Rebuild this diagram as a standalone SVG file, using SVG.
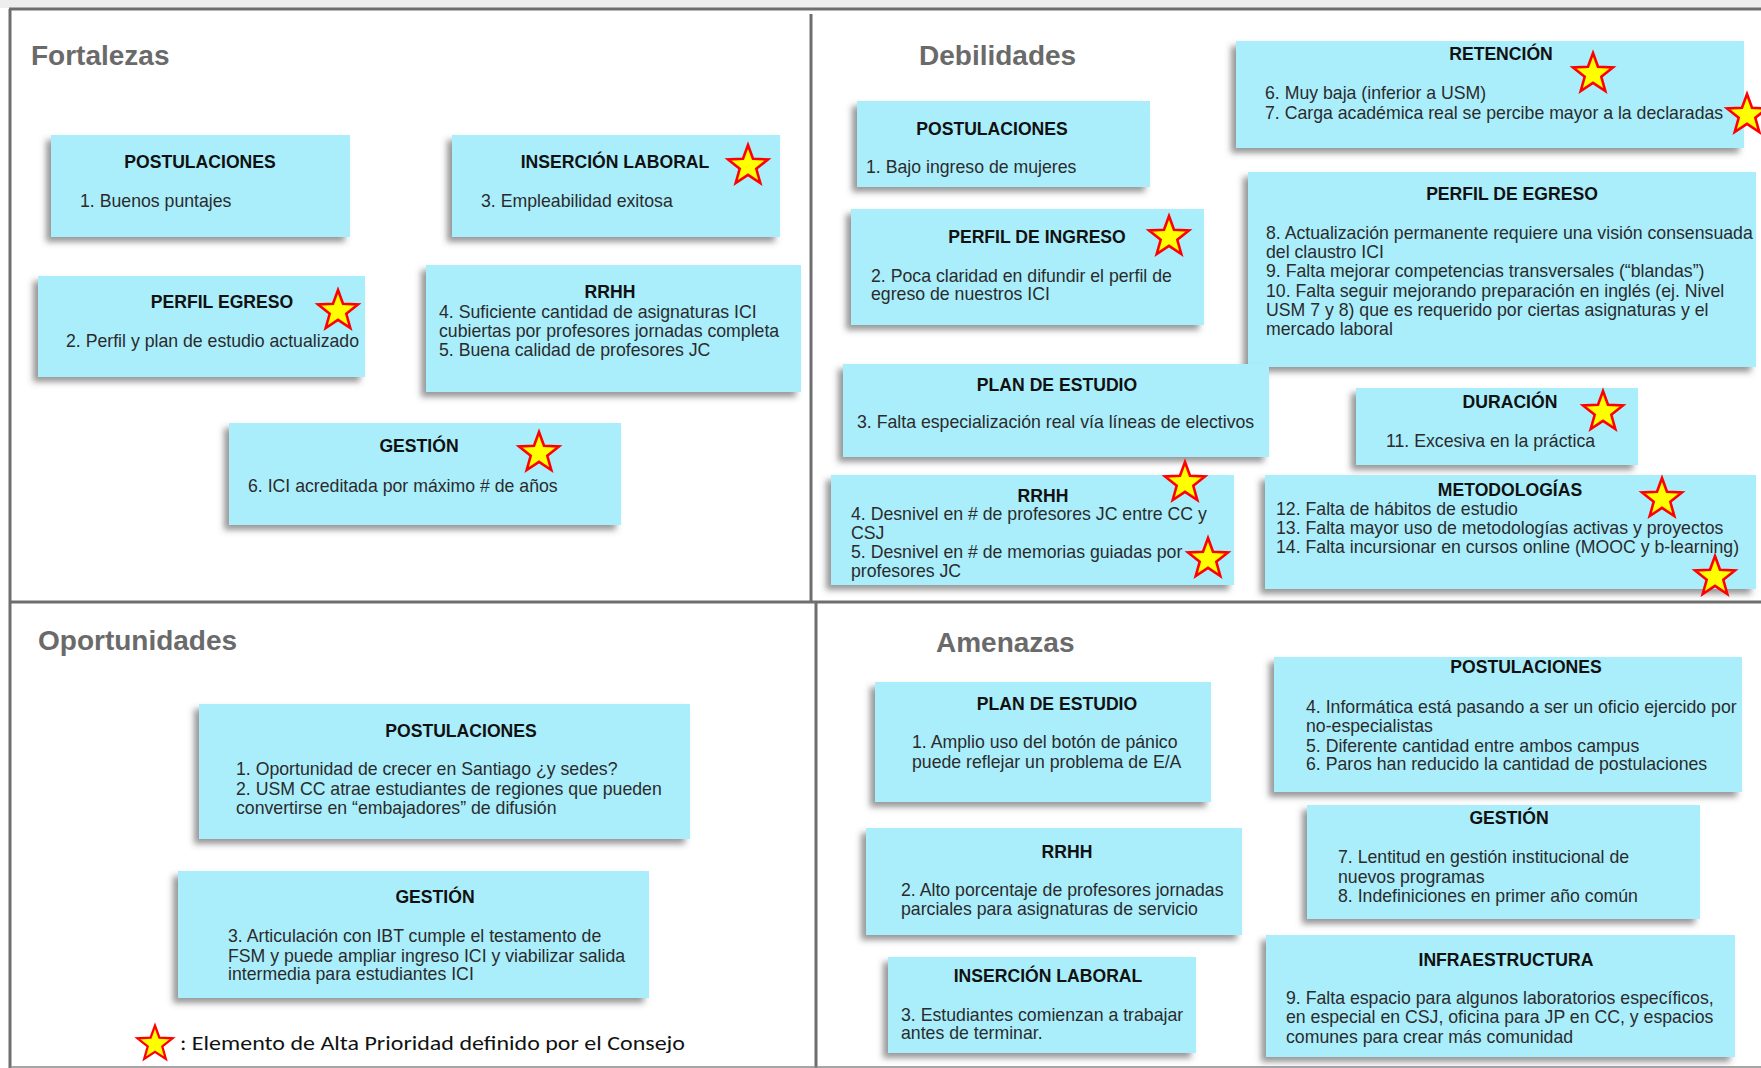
<svg xmlns="http://www.w3.org/2000/svg" xmlns:xlink="http://www.w3.org/1999/xlink" width="1761" height="1068" viewBox="0 0 1761 1068">
<defs>
<filter id="sh" x="-10%" y="-10%" width="120%" height="130%">
<feDropShadow dx="-5" dy="5" stdDeviation="3" flood-color="#444" flood-opacity="0.55"/>
</filter>
<path id="star" d="M0,-21 L5,-7.2 L20,-6.5 L8.3,2.8 L12.3,17 L0,8.9 L-12.3,17 L-8.3,2.8 L-20,-6.5 L-5,-7.2 Z" fill="#ffff00" stroke="#ff0000" stroke-width="2.6" stroke-linejoin="miter"/>
<style>
.note{fill:#aaeefc;filter:url(#sh)}
.t{font-family:'Liberation Sans',Arial,sans-serif;font-weight:bold;font-size:17.6px;text-anchor:middle;fill:#111}
.b{font-family:'Liberation Sans',Arial,sans-serif;font-size:17.7px;fill:#2b2b2b}
.h{font-family:'Liberation Sans',Arial,sans-serif;font-weight:bold;font-size:28px;fill:#6a6a6a}
.fr{stroke:#6e6e6e;stroke-width:3;fill:none}
</style>
</defs>
<rect x="0" y="0" width="1761" height="1068" fill="#ffffff"/>
<rect x="0" y="0" width="1761" height="8" fill="#eeeeee"/>
<g id="frame">
<line class="fr" x1="9" y1="9" x2="1761" y2="9"/>
<line class="fr" x1="10" y1="9" x2="10" y2="1068"/>
<line class="fr" x1="811" y1="14" x2="811" y2="602"/>
<line class="fr" x1="10" y1="602" x2="1761" y2="602"/>
<line class="fr" x1="816" y1="602" x2="816" y2="1068"/>
<line stroke="#888" stroke-width="1.5" x1="10" y1="1067" x2="1761" y2="1067"/>
</g>
<g id="titles">
<text class="h" x="31" y="65">Fortalezas</text>
<text class="h" x="919" y="65">Debilidades</text>
<text class="h" x="38" y="650">Oportunidades</text>
<text class="h" x="936" y="652">Amenazas</text>
</g>
<g id="connectors"></g>

<g id="f-postulaciones">
<rect class="note" x="51" y="135" width="299" height="102"/>
<text class="t" x="200" y="168">POSTULACIONES</text>
<text class="b" x="80" y="207">1. Buenos puntajes</text>
</g>
<g id="f-insercion">
<rect class="note" x="452" y="135" width="328" height="102"/>
<text class="t" x="615" y="168">INSERCIÓN LABORAL</text>
<use href="#star" x="748" y="166"/>
<text class="b" x="481" y="207">3. Empleabilidad exitosa</text>
</g>
<g id="f-perfil-egreso">
<rect class="note" x="38" y="276" width="327" height="101"/>
<text class="t" x="222" y="308">PERFIL EGRESO</text>
<use href="#star" x="338" y="311"/>
<text class="b" x="66" y="347">2. Perfil y plan de estudio actualizado</text>
</g>
<g id="f-rrhh">
<rect class="note" x="426" y="265" width="375" height="127"/>
<text class="t" x="610" y="298">RRHH</text>
<text class="b" x="439" y="318">4. Suficiente cantidad de asignaturas ICI</text>
<text class="b" x="439" y="337">cubiertas por profesores jornadas completa</text>
<text class="b" x="439" y="356">5. Buena calidad de profesores JC</text>
</g>
<g id="f-gestion">
<rect class="note" x="229" y="423" width="392" height="102"/>
<text class="t" x="419" y="452">GESTIÓN</text>
<use href="#star" x="539" y="453"/>
<text class="b" x="248" y="492">6. ICI acreditada por máximo # de años</text>
</g>

<g id="d-retencion">
<rect class="note" x="1236" y="41" width="508" height="107"/>
<text class="t" x="1501" y="60">RETENCIÓN</text>
<use href="#star" x="1593" y="74"/>
<text class="b" x="1265" y="99">6. Muy baja (inferior a USM)</text>
<text class="b" x="1265" y="119">7. Carga académica real se percibe mayor a la declaradas</text>
<use href="#star" x="1747" y="115"/>
</g>
<g id="d-postulaciones">
<rect class="note" x="857" y="101" width="293" height="86"/>
<text class="t" x="992" y="135">POSTULACIONES</text>
<text class="b" x="866" y="173">1. Bajo ingreso de mujeres</text>
</g>
<g id="d-perfil-ingreso">
<rect class="note" x="851" y="209" width="353" height="116"/>
<text class="t" x="1037" y="243">PERFIL DE INGRESO</text>
<use href="#star" x="1169" y="237"/>
<text class="b" x="871" y="282">2. Poca claridad en difundir el perfil de</text>
<text class="b" x="871" y="300">egreso de nuestros ICI</text>
</g>
<g id="d-perfil-egreso">
<rect class="note" x="1248" y="172" width="508" height="195"/>
<text class="t" x="1512" y="200">PERFIL DE EGRESO</text>
<text class="b" x="1266" y="239">8. Actualización permanente requiere una visión consensuada</text>
<text class="b" x="1266" y="258">del claustro ICI</text>
<text class="b" x="1266" y="277">9. Falta mejorar competencias transversales (“blandas”)</text>
<text class="b" x="1266" y="297">10. Falta seguir mejorando preparación en inglés (ej. Nivel</text>
<text class="b" x="1266" y="316">USM 7 y 8) que es requerido por ciertas asignaturas y el</text>
<text class="b" x="1266" y="335">mercado laboral</text>
</g>
<g id="d-plan">
<rect class="note" x="843" y="364" width="426" height="93"/>
<text class="t" x="1057" y="391">PLAN DE ESTUDIO</text>
<text class="b" x="857" y="428">3. Falta especialización real vía líneas de electivos</text>
</g>
<g id="d-duracion">
<rect class="note" x="1356" y="388" width="282" height="77"/>
<text class="t" x="1510" y="408">DURACIÓN</text>
<use href="#star" x="1603" y="412"/>
<text class="b" x="1386" y="447">11. Excesiva en la práctica</text>
</g>
<g id="d-rrhh">
<rect class="note" x="831" y="475" width="403" height="110"/>
<text class="t" x="1043" y="502">RRHH</text>
<use href="#star" x="1185" y="483"/>
<text class="b" x="851" y="520">4. Desnivel en # de profesores JC entre CC y</text>
<text class="b" x="851" y="539">CSJ</text>
<text class="b" x="851" y="558">5. Desnivel en # de memorias guiadas por</text>
<text class="b" x="851" y="577">profesores JC</text>
<use href="#star" x="1208" y="559"/>
</g>
<g id="d-metodologias">
<rect class="note" x="1265" y="475" width="491" height="114"/>
<text class="t" x="1510" y="496">METODOLOGÍAS</text>
<use href="#star" x="1662" y="499"/>
<text class="b" x="1276" y="515">12. Falta de hábitos de estudio</text>
<text class="b" x="1276" y="534">13. Falta mayor uso de metodologías activas y proyectos</text>
<text class="b" x="1276" y="553">14. Falta incursionar en cursos online (MOOC y b-learning)</text>
<use href="#star" x="1715" y="577"/>
</g>

<g id="o-postulaciones">
<rect class="note" x="199" y="704" width="491" height="135"/>
<text class="t" x="461" y="737">POSTULACIONES</text>
<text class="b" x="236" y="775">1. Oportunidad de crecer en Santiago ¿y sedes?</text>
<text class="b" x="236" y="795">2. USM CC atrae estudiantes de regiones que pueden</text>
<text class="b" x="236" y="814">convertirse en “embajadores” de difusión</text>
</g>
<g id="o-gestion">
<rect class="note" x="178" y="871" width="471" height="127"/>
<text class="t" x="435" y="903">GESTIÓN</text>
<text class="b" x="228" y="942">3. Articulación con IBT cumple el testamento de</text>
<text class="b" x="228" y="962">FSM y puede ampliar ingreso ICI y viabilizar salida</text>
<text class="b" x="228" y="980">intermedia para estudiantes ICI</text>
</g>
<g id="legend">
<use href="#star" transform="translate(155,1044) scale(0.88)"/>
<text x="180" y="1050" font-family="Carlito,'Liberation Sans',sans-serif" font-size="21" fill="#111" textLength="505" lengthAdjust="spacingAndGlyphs">: Elemento de Alta Prioridad definido por el Consejo</text>
</g>

<g id="a-plan">
<rect class="note" x="875" y="682" width="336" height="120"/>
<text class="t" x="1057" y="710">PLAN DE ESTUDIO</text>
<text class="b" x="912" y="748">1. Amplio uso del botón de pánico</text>
<text class="b" x="912" y="768">puede reflejar un problema de E/A</text>
</g>
<g id="a-postulaciones">
<rect class="note" x="1274" y="657" width="468" height="135"/>
<text class="t" x="1526" y="673">POSTULACIONES</text>
<text class="b" x="1306" y="713">4. Informática está pasando a ser un oficio ejercido por</text>
<text class="b" x="1306" y="732">no-especialistas</text>
<text class="b" x="1306" y="752">5. Diferente cantidad entre ambos campus</text>
<text class="b" x="1306" y="770">6. Paros han reducido la cantidad de postulaciones</text>
</g>
<g id="a-gestion">
<rect class="note" x="1307" y="805" width="393" height="114"/>
<text class="t" x="1509" y="824">GESTIÓN</text>
<text class="b" x="1338" y="863">7. Lentitud en gestión institucional de</text>
<text class="b" x="1338" y="883">nuevos programas</text>
<text class="b" x="1338" y="902">8. Indefiniciones en primer año común</text>
</g>
<g id="a-rrhh">
<rect class="note" x="866" y="828" width="376" height="107"/>
<text class="t" x="1067" y="858">RRHH</text>
<text class="b" x="901" y="896">2. Alto porcentaje de profesores jornadas</text>
<text class="b" x="901" y="915">parciales para asignaturas de servicio</text>
</g>
<g id="a-insercion">
<rect class="note" x="888" y="957" width="308" height="96"/>
<text class="t" x="1048" y="982">INSERCIÓN LABORAL</text>
<text class="b" x="901" y="1021">3. Estudiantes comienzan a trabajar</text>
<text class="b" x="901" y="1039">antes de terminar.</text>
</g>
<g id="a-infra">
<rect class="note" x="1266" y="935" width="469" height="122"/>
<text class="t" x="1506" y="966">INFRAESTRUCTURA</text>
<text class="b" x="1286" y="1004">9. Falta espacio para algunos laboratorios específicos,</text>
<text class="b" x="1286" y="1023">en especial en CSJ, oficina para JP en CC, y espacios</text>
<text class="b" x="1286" y="1043">comunes para crear más comunidad</text>
</g>
</svg>
